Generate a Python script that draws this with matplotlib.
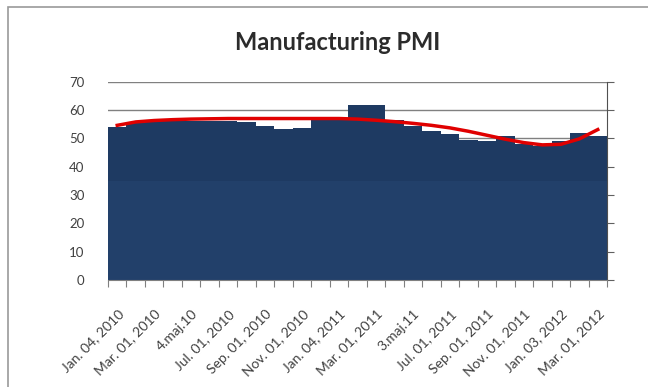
import numpy as np
import matplotlib.pyplot as plt
from matplotlib.patches import Rectangle

plt.rcParams['font.family'] = ['Lato', 'DejaVu Sans']

# monthly PMI readings, Jan 2010 - Mar 2012
months = ['Jan. 04, 2010', 'Feb 2010', 'Mar. 01, 2010', 'Apr 2010', '4.maj.10',
          'Jun 2010', 'Jul. 01, 2010', 'Aug 2010', 'Sep. 01, 2010', 'Oct 2010',
          'Nov. 01, 2010', 'Dec 2010', 'Jan. 04, 2011', 'Feb 2011', 'Mar. 01, 2011',
          'Apr 2011', '3.maj.11', 'Jun 2011', 'Jul. 01, 2011', 'Aug 2011',
          'Sep. 01, 2011', 'Oct 2011', 'Nov. 01, 2011', 'Dec 2011', 'Jan. 03, 2012',
          'Feb 2012', 'Mar. 01, 2012']
pmi = [54.0, 55.5, 56.0, 56.0, 56.0, 56.0, 56.0, 55.8, 54.3, 53.2,
       53.8, 56.5, 56.8, 61.8, 61.6, 56.5, 54.2, 52.5, 51.6, 49.3,
       49.1, 50.7, 48.0, 47.2, 49.2, 51.9, 51.0]
# smoothed trend of the index, one point per month
trend = [54.6, 55.8, 56.3, 56.6, 56.8, 56.9, 57.0, 57.0, 57.0, 57.0,
         57.0, 57.0, 57.0, 56.8, 56.4, 55.9, 55.3, 54.6, 53.7, 52.5,
         51.1, 49.7, 48.5, 47.7, 47.9, 49.8, 53.1]
shade_from = 35  # upper part of the columns is drawn a shade darker

x = np.arange(len(pmi))
pmi_arr = np.array(pmi)

fig = plt.figure(figsize=(6.48, 3.87), dpi=100)
fig.patches.append(Rectangle((8 / 648, -0.1), 1.2, 1 - 7 / 387 + 0.1,
                             transform=fig.transFigure, fill=False,
                             edgecolor='#9a9a9a', linewidth=1.2))
ax = fig.add_axes([108 / 648, 1 - 280 / 387, 499 / 648, (280 - 81.7) / 387])

ax.bar(x, pmi_arr, width=1.0, color='#22406a', edgecolor='none', zorder=2)
ax.bar(x, pmi_arr - shade_from, bottom=shade_from, width=1.0, color='#1e3a62',
       edgecolor='none', zorder=2)
ax.plot(x, trend, color='#e00000', linewidth=2.5, zorder=3)

ax.set_xlim(-0.5, len(pmi) - 0.5)
ax.set_ylim(0, 70)
ax.set_yticks(range(0, 71, 10))
ax.yaxis.grid(True, color='#808080', linewidth=1.0, zorder=1)
ax.set_axisbelow(True)

# category boundaries get the tick marks, every other month gets a label
ax.set_xticks(np.arange(len(pmi) + 1) - 0.5)
ax.set_xticklabels([])
ax.set_xticks(x[::2], minor=True)
ax.set_xticklabels(months[::2], minor=True, rotation=45, ha='right',
                   rotation_mode='anchor', fontsize=10, color='#404040')
ax.tick_params(axis='x', which='major', length=5, color='#808080', direction='out')
ax.tick_params(axis='x', which='minor', length=0, pad=20)

ax.tick_params(axis='y', left=False, right=True, labelleft=True, length=5,
               color='#606060', pad=12, labelsize=9.5, labelcolor='#404040')

for side in ['top', 'left']:
    ax.spines[side].set_visible(False)
ax.spines['right'].set_color('#505050')
ax.spines['bottom'].set_color('#808080')

fig.text(338 / 648, 1 - 42 / 387, 'Manufacturing PMI', ha='center', va='center',
         fontsize=17, fontweight='bold', color='#2b2b2b')

fig.savefig('out.png', dpi=100)
